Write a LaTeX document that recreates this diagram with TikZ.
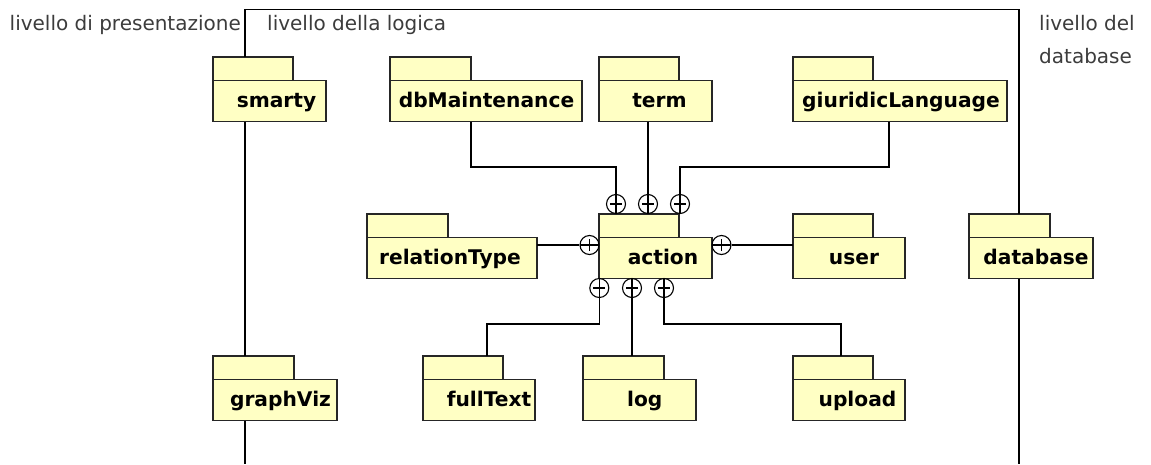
\documentclass[tikz,border=0pt]{standalone}
\usepackage{fontspec}
\setmainfont{DejaVu Sans}
\usetikzlibrary{calc}
\definecolor{pkgfill}{RGB}{255,255,196}
\definecolor{lbl}{RGB}{60,60,60}
\tikzset{
  pkgbox/.style={draw=black!85, line width=1.4pt, fill=pkgfill, inner sep=0pt, outer sep=0pt, rectangle},
  pkgname/.style={font=\bfseries\fontsize{20.2}{22}\selectfont, text=black, inner sep=0pt, anchor=base},
  layer/.style={font=\fontsize{20}{22}\selectfont, text=lbl, inner sep=0pt, anchor=base west},
  wire/.style={draw=black, line width=1.4pt},
  contv/.style={circle, draw=black, line width=1.1pt, fill=white, minimum size=19pt, inner sep=0pt,
    path picture={
      \draw[line width=1.1pt] (path picture bounding box.north) -- (path picture bounding box.south);
      \draw[line width=1.1pt] ([xshift=-6pt]path picture bounding box.center) -- ([xshift=6pt]path picture bounding box.center);}},
  conth/.style={circle, draw=black, line width=1.1pt, fill=white, minimum size=19pt, inner sep=0pt,
    path picture={
      \draw[line width=1.1pt] (path picture bounding box.west) -- (path picture bounding box.east);
      \draw[line width=1.1pt] ([yshift=-6pt]path picture bounding box.center) -- ([yshift=6pt]path picture bounding box.center);}}
}
% \pkg{name}{tab left}{tab top}{tab right}{body right}{label}{label x}
\newcommand{\pkg}[7]{%
  \node[pkgbox, anchor=north west, minimum width={#4pt-#2pt}, minimum height=23.5pt] (#1-tab) at (#2,#3) {};
  \node[pkgbox, anchor=north west, minimum width={#5pt-#2pt}, minimum height=41pt] (#1) at (#2,#3+23.5) {};
  \node[pkgname] (#1-name) at (#7,#3+50.5) {#6};
}
\begin{document}
\begin{tikzpicture}[x=1pt,y=-1pt]
\useasboundingbox (0,0) rectangle (1151,464);

% layer labels
\node[layer] (lp) at (9.5,30) {livello di presentazione};
\node[layer] (ll) at (267,30) {livello della logica};
\node[layer] (ld1) at (1039,30) {livello del};
\node[layer] (ld2) at (1039,63) {database};

% packages
\pkg{smarty}{213}{57}{293}{326}{smarty}{276.5}
\pkg{dbm}{390}{57}{471}{582}{dbMaintenance}{486.5}
\pkg{term}{599}{57}{679}{712}{term}{659.5}
\pkg{giur}{793}{57}{873}{1007}{giuridicLanguage}{901}
\pkg{rel}{367}{214}{448}{537}{relationType}{450}
\pkg{action}{599}{214}{679}{712}{action}{663}
\pkg{user}{793}{214}{873}{905}{user}{854}
\pkg{db}{969}{214}{1050}{1093}{database}{1036}
\pkg{graph}{213}{356}{294}{337}{graphViz}{280.5}
\pkg{full}{423}{356}{503}{535}{fullText}{489}
\pkg{log}{583}{356}{664}{696}{log}{644.7}
\pkg{upload}{793}{356}{873}{905}{upload}{857.5}

% layer boundaries
\coordinate (ftl) at (245,9.5);
\coordinate (ftr) at (1019,9.5);
\coordinate (fbl) at (245,464);
\coordinate (fbr) at (1019,464);
\draw[wire] (smarty-tab.north -| ftl) -- (ftl) -- (ftr) -- (db-tab.north -| ftr);
\draw[wire] (smarty.south -| ftl) -- (graph-tab.north -| ftl);
\draw[wire] (graph.south -| ftl) -- (fbl);
\draw[wire] (db.south -| ftr) -- (fbr);

% containment markers around action
\node[contv] (c1) at (616,204) {};
\node[contv] (c2) at (648,204) {};
\node[contv] (c3) at (680,204) {};
\node[conth] (c4) at (589.5,245) {};
\node[conth] (c5) at (721.5,245) {};
\node[contv] (c6) at (599.3,288) {};
\node[contv] (c7) at (632,288) {};
\node[contv] (c8) at (664,288) {};

% connectors
\coordinate (jtop) at (0,167);
\coordinate (jbot) at (0,324);
\coordinate (jgiur) at (889,0);
\draw[wire] (dbm-tab.east |- dbm.south) -- (dbm-tab.east |- jtop) -| (c1.north);
\draw[wire] (c2.north |- term.south) -- (c2.north);
\draw[wire] (jgiur |- giur.south) -- (jgiur |- jtop) -| (c3.north);
\draw[wire] (rel.east |- c4) -- (c4.west);
\draw[wire] (c5.east) -- (user.west |- c5);
\draw[wire] (c6.south) -- (c6.south |- jbot) -| (487,356);
\draw[wire] (c7.south) -- (c7.south |- log-tab.north);
\draw[wire] (c8.south) -- (c8.south |- jbot) -| (841,356);
\end{tikzpicture}
\end{document}
